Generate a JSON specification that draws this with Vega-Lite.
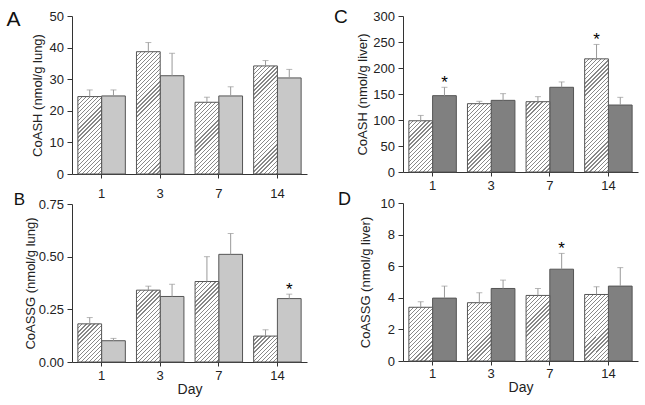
{
  "$schema": "https://vega.github.io/schema/vega-lite/v6.json",
  "padding": {"left": 6, "top": 8, "right": 4, "bottom": 4},
  "params": [
    {"name": "hatch", "value": [
      {"offset":0,"color":"#888"},{"offset":0.008,"color":"#888"},{"offset":0.008,"color":"#fff"},{"offset":0.027,"color":"#fff"},
      {"offset":0.027,"color":"#888"},{"offset":0.035,"color":"#888"},{"offset":0.035,"color":"#fff"},{"offset":0.054,"color":"#fff"},
      {"offset":0.054,"color":"#888"},{"offset":0.062,"color":"#888"},{"offset":0.062,"color":"#fff"},{"offset":0.081,"color":"#fff"},
      {"offset":0.081,"color":"#888"},{"offset":0.089,"color":"#888"},{"offset":0.089,"color":"#fff"},{"offset":0.108,"color":"#fff"},
      {"offset":0.108,"color":"#888"},{"offset":0.116,"color":"#888"},{"offset":0.116,"color":"#fff"},{"offset":0.135,"color":"#fff"},
      {"offset":0.135,"color":"#888"},{"offset":0.143,"color":"#888"},{"offset":0.143,"color":"#fff"},{"offset":0.162,"color":"#fff"},
      {"offset":0.162,"color":"#888"},{"offset":0.17,"color":"#888"},{"offset":0.17,"color":"#fff"},{"offset":0.189,"color":"#fff"},
      {"offset":0.189,"color":"#888"},{"offset":0.197,"color":"#888"},{"offset":0.197,"color":"#fff"},{"offset":0.216,"color":"#fff"},
      {"offset":0.216,"color":"#888"},{"offset":0.224,"color":"#888"},{"offset":0.224,"color":"#fff"},{"offset":0.243,"color":"#fff"},
      {"offset":0.243,"color":"#888"},{"offset":0.251,"color":"#888"},{"offset":0.251,"color":"#fff"},{"offset":0.27,"color":"#fff"},
      {"offset":0.27,"color":"#888"},{"offset":0.278,"color":"#888"},{"offset":0.278,"color":"#fff"},{"offset":0.297,"color":"#fff"},
      {"offset":0.297,"color":"#888"},{"offset":0.305,"color":"#888"},{"offset":0.305,"color":"#fff"},{"offset":0.324,"color":"#fff"},
      {"offset":0.324,"color":"#888"},{"offset":0.332,"color":"#888"},{"offset":0.332,"color":"#fff"},{"offset":0.351,"color":"#fff"},
      {"offset":0.351,"color":"#888"},{"offset":0.359,"color":"#888"},{"offset":0.359,"color":"#fff"},{"offset":0.378,"color":"#fff"},
      {"offset":0.378,"color":"#888"},{"offset":0.386,"color":"#888"},{"offset":0.386,"color":"#fff"},{"offset":0.405,"color":"#fff"},
      {"offset":0.405,"color":"#888"},{"offset":0.413,"color":"#888"},{"offset":0.413,"color":"#fff"},{"offset":0.432,"color":"#fff"},
      {"offset":0.432,"color":"#888"},{"offset":0.44,"color":"#888"},{"offset":0.44,"color":"#fff"},{"offset":0.459,"color":"#fff"},
      {"offset":0.459,"color":"#888"},{"offset":0.467,"color":"#888"},{"offset":0.467,"color":"#fff"},{"offset":0.486,"color":"#fff"},
      {"offset":0.486,"color":"#888"},{"offset":0.494,"color":"#888"},{"offset":0.494,"color":"#fff"},{"offset":0.513,"color":"#fff"},
      {"offset":0.513,"color":"#888"},{"offset":0.521,"color":"#888"},{"offset":0.521,"color":"#fff"},{"offset":0.54,"color":"#fff"},
      {"offset":0.54,"color":"#888"},{"offset":0.548,"color":"#888"},{"offset":0.548,"color":"#fff"},{"offset":0.567,"color":"#fff"},
      {"offset":0.567,"color":"#888"},{"offset":0.575,"color":"#888"},{"offset":0.575,"color":"#fff"},{"offset":0.594,"color":"#fff"},
      {"offset":0.594,"color":"#888"},{"offset":0.602,"color":"#888"},{"offset":0.602,"color":"#fff"},{"offset":0.621,"color":"#fff"},
      {"offset":0.621,"color":"#888"},{"offset":0.629,"color":"#888"},{"offset":0.629,"color":"#fff"},{"offset":0.648,"color":"#fff"},
      {"offset":0.648,"color":"#888"},{"offset":0.656,"color":"#888"},{"offset":0.656,"color":"#fff"},{"offset":0.675,"color":"#fff"},
      {"offset":0.675,"color":"#888"},{"offset":0.683,"color":"#888"},{"offset":0.683,"color":"#fff"},{"offset":0.702,"color":"#fff"},
      {"offset":0.702,"color":"#888"},{"offset":0.71,"color":"#888"},{"offset":0.71,"color":"#fff"},{"offset":0.729,"color":"#fff"},
      {"offset":0.729,"color":"#888"},{"offset":0.737,"color":"#888"},{"offset":0.737,"color":"#fff"},{"offset":0.756,"color":"#fff"},
      {"offset":0.756,"color":"#888"},{"offset":0.764,"color":"#888"},{"offset":0.764,"color":"#fff"},{"offset":0.783,"color":"#fff"},
      {"offset":0.783,"color":"#888"},{"offset":0.791,"color":"#888"},{"offset":0.791,"color":"#fff"},{"offset":0.81,"color":"#fff"},
      {"offset":0.81,"color":"#888"},{"offset":0.818,"color":"#888"},{"offset":0.818,"color":"#fff"},{"offset":0.837,"color":"#fff"},
      {"offset":0.837,"color":"#888"},{"offset":0.845,"color":"#888"},{"offset":0.845,"color":"#fff"},{"offset":0.864,"color":"#fff"},
      {"offset":0.864,"color":"#888"},{"offset":0.872,"color":"#888"},{"offset":0.872,"color":"#fff"},{"offset":0.891,"color":"#fff"},
      {"offset":0.891,"color":"#888"},{"offset":0.899,"color":"#888"},{"offset":0.899,"color":"#fff"},{"offset":0.918,"color":"#fff"},
      {"offset":0.918,"color":"#888"},{"offset":0.926,"color":"#888"},{"offset":0.926,"color":"#fff"},{"offset":0.945,"color":"#fff"},
      {"offset":0.945,"color":"#888"},{"offset":0.953,"color":"#888"},{"offset":0.953,"color":"#fff"},{"offset":0.972,"color":"#fff"},
      {"offset":0.972,"color":"#888"},{"offset":0.98,"color":"#888"},{"offset":0.98,"color":"#fff"},{"offset":1,"color":"#fff"}
    ]}
  ],
  "data": {"values": [
    {"panel":"A","day":1,"group":"control","mean":24.5,"upper":26.6,"star":false},
    {"panel":"A","day":1,"group":"treated","mean":24.7,"upper":26.6,"star":false},
    {"panel":"A","day":3,"group":"control","mean":38.7,"upper":41.6,"star":false},
    {"panel":"A","day":3,"group":"treated","mean":31.1,"upper":38.2,"star":false},
    {"panel":"A","day":7,"group":"control","mean":22.7,"upper":24.3,"star":false},
    {"panel":"A","day":7,"group":"treated","mean":24.7,"upper":27.6,"star":false},
    {"panel":"A","day":14,"group":"control","mean":34.2,"upper":35.9,"star":false},
    {"panel":"A","day":14,"group":"treated","mean":30.4,"upper":33.1,"star":false},
    {"panel":"B","day":1,"group":"control","mean":0.181,"upper":0.211,"star":false},
    {"panel":"B","day":1,"group":"treated","mean":0.101,"upper":0.112,"star":false},
    {"panel":"B","day":3,"group":"control","mean":0.341,"upper":0.36,"star":false},
    {"panel":"B","day":3,"group":"treated","mean":0.311,"upper":0.369,"star":false},
    {"panel":"B","day":7,"group":"control","mean":0.382,"upper":0.5,"star":false},
    {"panel":"B","day":7,"group":"treated","mean":0.511,"upper":0.61,"star":false},
    {"panel":"B","day":14,"group":"control","mean":0.123,"upper":0.153,"star":false},
    {"panel":"B","day":14,"group":"treated","mean":0.301,"upper":0.322,"star":true},
    {"panel":"C","day":1,"group":"control","mean":98.5,"upper":108.8,"star":false},
    {"panel":"C","day":1,"group":"treated","mean":146.8,"upper":162.9,"star":true},
    {"panel":"C","day":3,"group":"control","mean":131.4,"upper":135.9,"star":false},
    {"panel":"C","day":3,"group":"treated","mean":137.8,"upper":150.7,"star":false},
    {"panel":"C","day":7,"group":"control","mean":135.2,"upper":144.9,"star":false},
    {"panel":"C","day":7,"group":"treated","mean":162.9,"upper":173.2,"star":false},
    {"panel":"C","day":14,"group":"control","mean":217.6,"upper":245.3,"star":true},
    {"panel":"C","day":14,"group":"treated","mean":128.8,"upper":143.6,"star":false},
    {"panel":"D","day":1,"group":"control","mean":3.4,"upper":3.75,"star":false},
    {"panel":"D","day":1,"group":"treated","mean":3.98,"upper":4.74,"star":false},
    {"panel":"D","day":3,"group":"control","mean":3.69,"upper":4.32,"star":false},
    {"panel":"D","day":3,"group":"treated","mean":4.59,"upper":5.12,"star":false},
    {"panel":"D","day":7,"group":"control","mean":4.15,"upper":4.59,"star":false},
    {"panel":"D","day":7,"group":"treated","mean":5.81,"upper":6.81,"star":true},
    {"panel":"D","day":14,"group":"control","mean":4.21,"upper":4.7,"star":false},
    {"panel":"D","day":14,"group":"treated","mean":4.74,"upper":5.91,"star":false}
  ]},
  "spacing": 27,
  "hconcat": [
    {
      "spacing": -9,
      "vconcat": [
        {
          "width": 235, "height": 158,
          "title": {"text": "A", "orient": "left", "anchor": "end", "angle": 0, "align": "right", "baseline": "top", "frame": "group", "offset": -3, "dy": -7.5, "fontSize": 21, "fontWeight": "normal", "color": "#111"},
          "transform": [{"filter": "datum.panel === 'A'"}],
          "encoding": {
            "x": {"field": "day", "type": "ordinal", "scale": {"paddingInner": 0.19, "paddingOuter": 0.1}, "axis": {"title": null, "labelPadding": 9}},
            "xOffset": {"field": "group", "type": "nominal", "sort": ["control", "treated"], "scale": {"paddingInner": 0, "paddingOuter": 0}},
            "y": {"field": "mean", "type": "quantitative", "scale": {"domain": [0, 50], "nice": false},
                  "axis": {"title": "CoASH (nmol/g lung)", "values": [0,10,20,30,40,50], "labelPadding": 3.5, "titleX": -27.5}}
          },
          "layer": [
            {"transform": [{"filter": "datum.group === 'treated'"}], "mark": {"type": "bar", "fill": "#c8c8c8", "stroke": "#555", "strokeWidth": 1}},
            {"transform": [{"filter": "datum.group === 'control'"}], "mark": {"type": "bar", "stroke": "#555", "strokeWidth": 1, "fill": {"expr": "{gradient:'linear',x1:0,y1:0,x2:150*23.74/(563.6+pow(3.16*datum.mean,2)),y2:150*3.16*datum.mean/(563.6+pow(3.16*datum.mean,2)),stops:hatch}"}}},
            {"mark": {"type": "rule", "color": "#999", "strokeWidth": 1}, "encoding": {"y2": {"field": "upper"}}},
            {"mark": {"type": "tick", "color": "#999", "size": 6, "thickness": 1}, "encoding": {"y": {"field": "upper", "type": "quantitative", "title": "CoASH (nmol/g lung)"}}},
            {"transform": [{"filter": "datum.star"}], "mark": {"type": "text", "text": "*", "fontSize": 17, "baseline": "middle", "dy": -4, "color": "#000"}, "encoding": {"y": {"field": "upper", "type": "quantitative", "title": "CoASH (nmol/g lung)"}}}
          ]
        },
        {
          "width": 235, "height": 158,
          "title": {"text": "B", "orient": "left", "anchor": "end", "angle": 0, "align": "right", "baseline": "top", "frame": "group", "offset": -12, "dy": -11.6, "fontSize": 17, "fontWeight": "normal", "color": "#111"},
          "transform": [{"filter": "datum.panel === 'B'"}],
          "encoding": {
            "x": {"field": "day", "type": "ordinal", "scale": {"paddingInner": 0.19, "paddingOuter": 0.1}, "axis": {"title": "Day", "labelPadding": 3, "titlePadding": 0, "titleFontSize": 14}},
            "xOffset": {"field": "group", "type": "nominal", "sort": ["control", "treated"], "scale": {"paddingInner": 0, "paddingOuter": 0}},
            "y": {"field": "mean", "type": "quantitative", "scale": {"domain": [0, 0.75], "nice": false},
                  "axis": {"title": "CoASSG (nmol/g lung)", "format": ".2f", "values": [0,0.25,0.5,0.75], "labelPadding": 3.5, "titleX": -34.5}}
          },
          "layer": [
            {"transform": [{"filter": "datum.group === 'treated'"}], "mark": {"type": "bar", "fill": "#c8c8c8", "stroke": "#555", "strokeWidth": 1}},
            {"transform": [{"filter": "datum.group === 'control'"}], "mark": {"type": "bar", "stroke": "#555", "strokeWidth": 1, "fill": {"expr": "{gradient:'linear',x1:0,y1:0,x2:150*23.74/(563.6+pow(210.67*datum.mean,2)),y2:150*210.67*datum.mean/(563.6+pow(210.67*datum.mean,2)),stops:hatch}"}}},
            {"mark": {"type": "rule", "color": "#999", "strokeWidth": 1}, "encoding": {"y2": {"field": "upper"}}},
            {"mark": {"type": "tick", "color": "#999", "size": 6, "thickness": 1}, "encoding": {"y": {"field": "upper", "type": "quantitative", "title": "CoASSG (nmol/g lung)"}}},
            {"transform": [{"filter": "datum.star"}], "mark": {"type": "text", "text": "*", "fontSize": 17, "baseline": "middle", "dy": -4, "color": "#000"}, "encoding": {"y": {"field": "upper", "type": "quantitative", "title": "CoASSG (nmol/g lung)"}}}
          ]
        }
      ]
    },
    {
      "spacing": -1,
      "vconcat": [
        {
          "width": 235, "height": 156,
          "title": {"text": "C", "orient": "left", "anchor": "end", "angle": 0, "align": "right", "baseline": "top", "frame": "group", "offset": -5, "dy": -8, "fontSize": 19, "fontWeight": "normal", "color": "#111"},
          "transform": [{"filter": "datum.panel === 'C'"}],
          "encoding": {
            "x": {"field": "day", "type": "ordinal", "scale": {"paddingInner": 0.19, "paddingOuter": 0.1}, "axis": {"title": null, "labelPadding": 3}},
            "xOffset": {"field": "group", "type": "nominal", "sort": ["control", "treated"], "scale": {"paddingInner": 0, "paddingOuter": 0}},
            "y": {"field": "mean", "type": "quantitative", "scale": {"domain": [0, 300], "nice": false},
                  "axis": {"title": "CoASH (nmol/g liver)", "values": [0,50,100,150,200,250,300], "labelPadding": 3.5, "titleX": -33.5}}
          },
          "layer": [
            {"transform": [{"filter": "datum.group === 'treated'"}], "mark": {"type": "bar", "fill": "#808080", "stroke": "#555", "strokeWidth": 1}},
            {"transform": [{"filter": "datum.group === 'control'"}], "mark": {"type": "bar", "stroke": "#555", "strokeWidth": 1, "fill": {"expr": "{gradient:'linear',x1:0,y1:0,x2:150*23.74/(563.6+pow(0.52*datum.mean,2)),y2:150*0.52*datum.mean/(563.6+pow(0.52*datum.mean,2)),stops:hatch}"}}},
            {"mark": {"type": "rule", "color": "#999", "strokeWidth": 1}, "encoding": {"y2": {"field": "upper"}}},
            {"mark": {"type": "tick", "color": "#999", "size": 6, "thickness": 1}, "encoding": {"y": {"field": "upper", "type": "quantitative", "title": "CoASH (nmol/g liver)"}}},
            {"transform": [{"filter": "datum.star"}], "mark": {"type": "text", "text": "*", "fontSize": 17, "baseline": "middle", "dy": -4, "color": "#000"}, "encoding": {"y": {"field": "upper", "type": "quantitative", "title": "CoASH (nmol/g liver)"}}}
          ]
        },
        {
          "width": 235, "height": 158,
          "title": {"text": "D", "orient": "left", "anchor": "end", "angle": 0, "align": "right", "baseline": "top", "frame": "group", "offset": -4.5, "dy": -11.6, "fontSize": 18, "fontWeight": "normal", "color": "#111"},
          "transform": [{"filter": "datum.panel === 'D'"}],
          "encoding": {
            "x": {"field": "day", "type": "ordinal", "scale": {"paddingInner": 0.19, "paddingOuter": 0.1}, "axis": {"title": "Day", "labelPadding": 2, "titlePadding": 0, "titleFontSize": 14}},
            "xOffset": {"field": "group", "type": "nominal", "sort": ["control", "treated"], "scale": {"paddingInner": 0, "paddingOuter": 0}},
            "y": {"field": "mean", "type": "quantitative", "scale": {"domain": [0, 10], "nice": false},
                  "axis": {"title": "CoASSG (nmol/g liver)", "values": [0,2,4,6,8,10], "labelPadding": 3.5, "titleX": -30.5}}
          },
          "layer": [
            {"transform": [{"filter": "datum.group === 'treated'"}], "mark": {"type": "bar", "fill": "#808080", "stroke": "#555", "strokeWidth": 1}},
            {"transform": [{"filter": "datum.group === 'control'"}], "mark": {"type": "bar", "stroke": "#555", "strokeWidth": 1, "fill": {"expr": "{gradient:'linear',x1:0,y1:0,x2:150*23.74/(563.6+pow(15.8*datum.mean,2)),y2:150*15.8*datum.mean/(563.6+pow(15.8*datum.mean,2)),stops:hatch}"}}},
            {"mark": {"type": "rule", "color": "#999", "strokeWidth": 1}, "encoding": {"y2": {"field": "upper"}}},
            {"mark": {"type": "tick", "color": "#999", "size": 6, "thickness": 1}, "encoding": {"y": {"field": "upper", "type": "quantitative", "title": "CoASSG (nmol/g liver)"}}},
            {"transform": [{"filter": "datum.star"}], "mark": {"type": "text", "text": "*", "fontSize": 17, "baseline": "middle", "dy": -4, "color": "#000"}, "encoding": {"y": {"field": "upper", "type": "quantitative", "title": "CoASSG (nmol/g liver)"}}}
          ]
        }
      ]
    }
  ],
  "config": {
    "font": "Liberation Sans",
    "view": {"stroke": null},
    "axis": {"grid": false, "domain": true, "ticks": true, "domainColor": "#333", "tickColor": "#333", "labelColor": "#222", "titleColor": "#222", "labelFont": "Liberation Sans", "titleFont": "Liberation Sans", "labelFontSize": 13, "titleFontSize": 13, "titleFontWeight": "normal"},
    "axisX": {"labelAngle": 0, "tickSize": 4},
    "axisY": {"tickSize": 5},
    "title": {"font": "Liberation Sans"}
  }
}
